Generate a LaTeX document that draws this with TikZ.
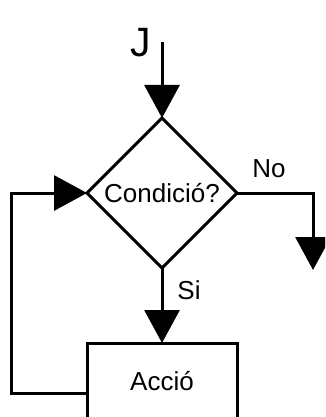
\documentclass[tikz,border=0pt]{standalone}
\usepackage{fontspec}
\setmainfont{Liberation Sans}
\usetikzlibrary{shapes.geometric,arrows.meta}
\begin{document}
\begin{tikzpicture}[x=1pt,y=-1pt, line width=3pt,
  flow/.style={-{Triangle[length=33pt,width=35pt]}},
  txt/.style={font=\fontsize{26}{31}\selectfont},
  lbl/.style={txt, anchor=base, inner sep=0pt}]
\useasboundingbox (0,0) rectangle (325,417);
\clip (0,0) rectangle (325,417);
\node[diamond, draw, txt, minimum width=150pt, minimum height=150pt, inner sep=0pt, outer sep=0pt, text height=19pt, text depth=0pt] (cond) at (162,193) {Condició?};
\node[rectangle, draw, txt, minimum width=150pt, minimum height=100pt, outer sep=0pt, text height=19pt, text depth=25pt] (accio) at (162,393) {Acció};
\coordinate (start) at (162,42);
\coordinate (nocorner) at (313,193);
\coordinate (noend) at (313,270);
\draw[flow] (start) -- (cond.north);
\draw[flow] (cond.south) -- (accio.north);
\draw[flow] (cond.east) -- (nocorner) -- (noend);
\draw[flow] (accio.west) -- ++(-76,0) |- (cond.west);
\node[lbl, font=\fontsize{41}{48}\selectfont] (j) at (141,57) {J};
\node[lbl] (no) at (269,177) {No};
\node[lbl] (si) at (189,299) {Si};
\end{tikzpicture}
\end{document}
